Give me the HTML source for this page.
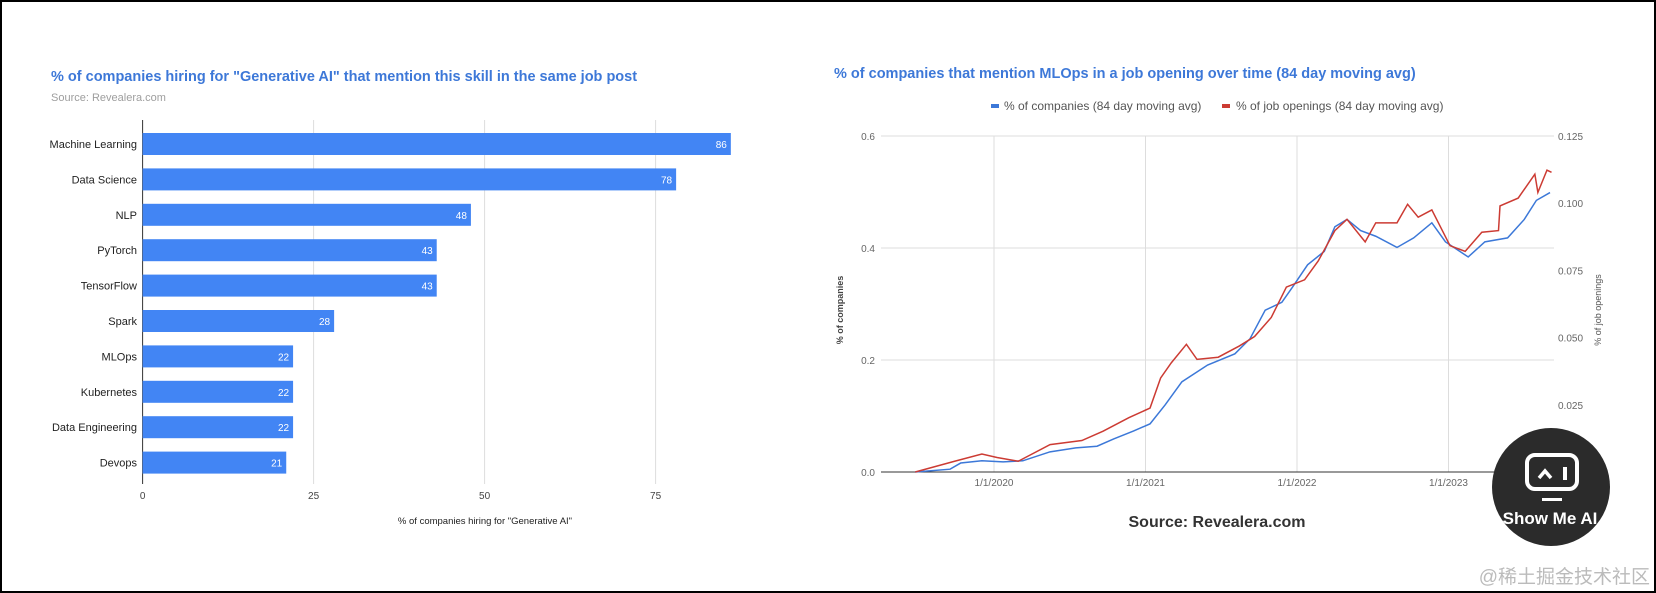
<!DOCTYPE html>
<html><head><meta charset="utf-8"><style>
body{margin:0;background:#fff;}
#wrap{position:relative;width:1656px;height:593px;box-sizing:border-box;border:2px solid #000;overflow:hidden;font-family:"Liberation Sans",sans-serif;}
svg text{font-family:"Liberation Sans",sans-serif;}
</style></head><body>
<div id="wrap">
<svg id="svg" width="1656" height="593" style="position:absolute;left:-2px;top:-2px">
<text x="51" y="81" font-size="14.5" font-weight="bold" fill="#3d78d8">% of companies hiring for "Generative AI" that mention this skill in the same job post</text>
<text x="51" y="101" font-size="11" fill="#9e9e9e">Source: Revealera.com</text>
<g id="barg"></g>
<text x="485" y="524" font-size="9.5" fill="#222" text-anchor="middle">% of companies hiring for "Generative AI"</text>

<text x="834" y="78" font-size="14.5" font-weight="bold" fill="#3d78d8">% of companies that mention MLOps in a job opening over time (84 day moving avg)</text>
<g>
<rect x="991" y="104" width="8" height="4" fill="#3c78d8"/>
<text x="1004" y="110" font-size="12" fill="#555">% of companies (84 day moving avg)</text>
<rect x="1222" y="104" width="8" height="4" fill="#cc3b33"/>
<text x="1236" y="110" font-size="12" fill="#555">% of job openings (84 day moving avg)</text>
</g>
<g id="lineg"></g>
<text transform="translate(843,310) rotate(-90)" font-size="9" font-weight="bold" fill="#444" text-anchor="middle">% of companies</text>
<text transform="translate(1601,310) rotate(-90)" font-size="9" fill="#555" text-anchor="middle">% of job openings</text>
<text x="1217" y="527" font-size="16" font-weight="bold" fill="#333" text-anchor="middle">Source: Revealera.com</text>

<g>
<circle cx="1551" cy="487" r="59" fill="#2b2b2b"/>
<rect x="1527" y="455" width="50" height="34" rx="8" fill="none" stroke="#fff" stroke-width="4"/>
<path d="M1539 478 L1545 471 L1551 478" fill="none" stroke="#fff" stroke-width="3.5"/>
<rect x="1563" y="467" width="4" height="13" fill="#fff"/>
<rect x="1542" y="498" width="20" height="3" fill="#fff"/>
<text x="1550" y="524" font-size="17" font-weight="bold" fill="#fff" text-anchor="middle">Show Me AI</text>
</g>
<text x="1650" y="583" font-size="19" fill="#bbb" text-anchor="end" font-family="'Liberation Serif','Noto Serif CJK SC',serif">@稀土掘金技术社区</text>
</svg>
</div>
<script>
const NS='http://www.w3.org/2000/svg';
function mk(p,tag,a){const e=document.createElementNS(NS,tag);for(const k in a)e.setAttribute(k,a[k]);p.appendChild(e);return e;}
// ---- bar chart data ----
const barCategories=["Machine Learning","Data Science","NLP","PyTorch","TensorFlow","Spark","MLOps","Kubernetes","Data Engineering","Devops"];
const barValues=[86,78,48,43,43,28,22,22,22,21];
const barTicks=[0,25,50,75];
// ---- line chart data ----
const blueDates=[2019.48,2019.71,2019.78,2019.92,2020.06,2020.19,2020.37,2020.54,2020.68,2020.79,2020.92,2021.03,2021.13,2021.24,2021.41,2021.59,2021.69,2021.79,2021.9,2021.97,2022.07,2022.18,2022.25,2022.33,2022.42,2022.52,2022.66,2022.77,2022.89,2022.98,2023.13,2023.24,2023.39,2023.5,2023.58,2023.67];
const blueValues=[0,0.005,0.016,0.02,0.018,0.02,0.036,0.043,0.046,0.059,0.073,0.086,0.12,0.161,0.191,0.211,0.238,0.289,0.303,0.33,0.37,0.394,0.438,0.451,0.431,0.421,0.401,0.418,0.445,0.411,0.384,0.411,0.418,0.451,0.485,0.499];
const redDates=[2019.48,2019.74,2019.92,2020.02,2020.16,2020.37,2020.58,2020.72,2020.89,2021.03,2021.10,2021.17,2021.27,2021.34,2021.48,2021.62,2021.72,2021.83,2021.93,2022.05,2022.14,2022.25,2022.33,2022.45,2022.52,2022.66,2022.73,2022.80,2022.89,2023.01,2023.11,2023.22,2023.33,2023.34,2023.46,2023.57,2023.59,2023.65,2023.68];
const redValues=[0,0.004,0.0067,0.0054,0.004,0.0102,0.0117,0.0152,0.0202,0.0238,0.035,0.0406,0.0475,0.0419,0.0427,0.0469,0.0504,0.0575,0.0688,0.0715,0.0785,0.0898,0.094,0.0856,0.0927,0.0927,0.0996,0.0948,0.0975,0.0842,0.0821,0.0892,0.0898,0.099,0.1019,0.1108,0.104,0.1123,0.1115];
const leftTicks=[0,0.2,0.4,0.6];
const leftTickLabels=["0.0","0.2","0.4","0.6"];
const rightTicks=[0.025,0.05,0.075,0.1,0.125];
const rightTickLabels=["0.025","0.050","0.075","0.100","0.125"];
const yearTicks=[2020,2021,2022,2023];
const yearLabels=["1/1/2020","1/1/2021","1/1/2022","1/1/2023"];

// bar chart
const bg=document.getElementById('barg');
const bx=v=>142.6+v*(171/25);
const rowTop=i=>133+i*35.4;
barTicks.forEach((t,i)=>{
  const l=mk(bg,'line',{x1:bx(t),x2:bx(t),y1:120,y2:484,stroke:i?'#ddd':'#333','stroke-width':1});
  
  
  const tx=mk(bg,'text',{x:bx(t),y:499,'font-size':10,fill:'#444','text-anchor':'middle'});tx.textContent=t;
  
  
});
barCategories.forEach((c,i)=>{
  const y=rowTop(i);
  const r=mk(bg,'rect',{x:bx(0),y:y,width:bx(barValues[i])-bx(0),height:22,fill:'#4285f4'});
  
  
  const lb=mk(bg,'text',{x:137,y:y+15,'font-size':11,fill:'#222','text-anchor':'end'});lb.textContent=c;
  
  
  const vl=mk(bg,'text',{x:bx(barValues[i])-4,y:y+15,'font-size':10,fill:'#fff','text-anchor':'end'});vl.textContent=barValues[i];
  
  
});

// line chart
const lg=document.getElementById('lineg');
const X0=881,X1=1554,YT=136,YB=472;
const lx=d=>994+(d-2020)*151.5;
const ly=v=>YB-v/0.6*(YB-YT);
const ry=v=>YB-v/0.125*(YB-YT);
leftTicks.forEach((t,i)=>{
  const l=mk(lg,'line',{x1:X0,x2:X1,y1:ly(t),y2:ly(t),stroke:'#ddd','stroke-width':1});
  
  
  const tx=mk(lg,'text',{x:875,y:ly(t)+4,'font-size':10,fill:'#666','text-anchor':'end'});tx.textContent=leftTickLabels[i];
  
  
});
rightTicks.forEach((t,i)=>{
  const tx=mk(lg,'text',{x:1558,y:ry(t)+4,'font-size':10,fill:'#666'});tx.textContent=rightTickLabels[i];
  
  
});
yearTicks.forEach((t,i)=>{
  const l=mk(lg,'line',{x1:lx(t),x2:lx(t),y1:YT,y2:YB,stroke:'#ddd','stroke-width':1});
  
  
  const tx=mk(lg,'text',{x:lx(t),y:486,'font-size':10,fill:'#666','text-anchor':'middle'});tx.textContent=yearLabels[i];
  
  
});
const ax=mk(lg,'line',{x1:X0,x2:X1,y1:YB,y2:YB,stroke:'#333','stroke-width':1});


const bp=mk(lg,'polyline',{points:blueDates.map((d,i)=>lx(d)+','+ly(blueValues[i])).join(' '),fill:'none',stroke:'#3c78d8','stroke-width':1.5});


const rp=mk(lg,'polyline',{points:redDates.map((d,i)=>lx(d)+','+ry(redValues[i])).join(' '),fill:'none',stroke:'#cc3b33','stroke-width':1.5});


</script>
</body></html>
